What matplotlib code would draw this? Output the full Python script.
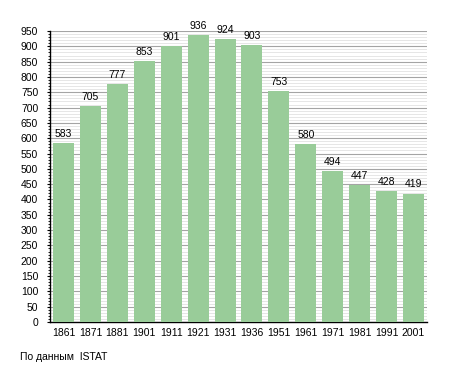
import matplotlib
matplotlib.use("Agg")
import matplotlib.pyplot as plt
from matplotlib.ticker import MultipleLocator

years = ["1861", "1871", "1881", "1901", "1911", "1921", "1931",
         "1936", "1951", "1961", "1971", "1981", "1991", "2001"]
population = [583, 705, 777, 853, 901, 936, 924, 903, 753, 580, 494, 447, 428, 419]
source = "По данным  ISTAT"

plt.rcParams["font.family"] = ["Liberation Sans", "DejaVu Sans"]

fig = plt.figure(figsize=(4.55, 3.73), dpi=100)
ax = fig.add_axes([0.1099, 0.1367, 0.8286, 0.7802])

x = range(len(years))
ax.bar(x, population, width=0.78, color="#99cc99", zorder=3)
for i, v in enumerate(population):
    ax.annotate(str(v), (i, v), xytext=(0, 3), textcoords="offset points",
                ha="center", va="bottom", fontsize=7.5, zorder=4)

ax.set_xlim(-0.5, len(years) - 0.5)
ax.set_ylim(0, 950)
ax.set_xticks(list(x))
ax.set_xticklabels(years, fontsize=7.5)
ax.tick_params(axis="x", length=0, pad=4)

ax.yaxis.set_major_locator(MultipleLocator(50))
ax.yaxis.set_minor_locator(MultipleLocator(10))
ax.tick_params(axis="y", which="major", length=2.5, width=0.8, labelsize=7.5, pad=6)
ax.tick_params(axis="y", which="minor", length=1.8, width=0.6)
ax.grid(axis="y", which="major", color="#a4a4a4", linewidth=0.8, zorder=0)
ax.grid(axis="y", which="minor", color="#e2e2e2", linewidth=0.6, zorder=0)
ax.set_axisbelow(True)

for s in ("top", "right"):
    ax.spines[s].set_visible(False)
ax.spines["left"].set_linewidth(1.0)
ax.spines["bottom"].set_linewidth(1.0)

fig.text(20 / 455, 1 - 357 / 373, source, fontsize=7.5, va="center", ha="left")

fig.savefig("out.png", dpi=100)
